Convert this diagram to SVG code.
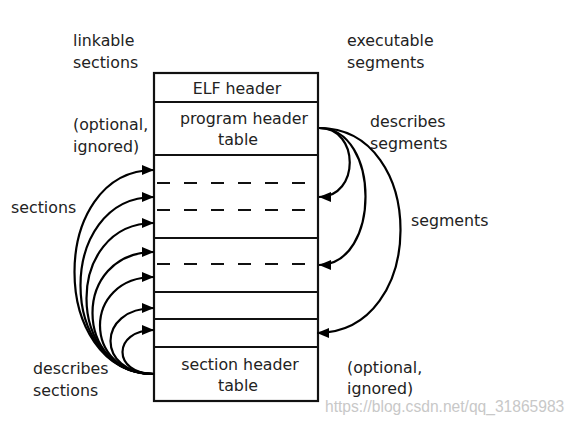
<svg xmlns="http://www.w3.org/2000/svg" width="577" height="422" viewBox="0 0 577 422">
<defs>
<style>
text{font-family:"DejaVu Sans",sans-serif;font-size:15.8px;fill:#222}
.c{text-anchor:middle}
.box{fill:#fff;stroke:#111;stroke-width:2.2}
.ln{stroke:#111;stroke-width:2.2}
.dash{stroke:#111;stroke-width:2.2;stroke-dasharray:13 14}
.arr{fill:none;stroke:#000;stroke-width:2.2;marker-end:url(#ah)}
.wm{font-family:"Liberation Sans",sans-serif;font-size:15.6px;fill:#c8c8c8}
</style>
<marker id="ah" viewBox="0 0 12 10" refX="12" refY="5" markerWidth="12" markerHeight="10" markerUnits="userSpaceOnUse" orient="auto">
<path d="M0,0 L12,5 L0,10 Z" fill="#000"/>
</marker>
</defs>
<rect width="577" height="422" fill="#fff"/>
<g id="elf-file">
<rect class="box" x="154" y="73" width="164" height="328"/>
<line class="ln" x1="154" y1="102" x2="318" y2="102"/>
<line class="ln" x1="154" y1="155" x2="318" y2="155"/>
<line class="dash" x1="157" y1="183" x2="310" y2="183"/>
<line class="dash" x1="157" y1="210" x2="310" y2="210"/>
<line class="ln" x1="154" y1="238" x2="318" y2="238"/>
<line class="dash" x1="157" y1="264" x2="310" y2="264"/>
<line class="ln" x1="154" y1="292" x2="318" y2="292"/>
<line class="ln" x1="154" y1="319" x2="318" y2="319"/>
<line class="ln" x1="154" y1="347" x2="318" y2="347"/>
</g>
<g id="elf-header"><text class="c" x="237" y="94">ELF header</text></g>
<g id="program-header-table"><text class="c" x="244" y="124">program header</text><text class="c" x="238" y="145">table</text></g>
<g id="section-header-table"><text class="c" x="240" y="370">section header</text><text class="c" x="238" y="391">table</text></g>
<g id="labels">
<text x="73" y="46">linkable</text><text x="73" y="68">sections</text>
<text x="347" y="46">executable</text><text x="347" y="68">segments</text>
<text x="73" y="130">(optional,</text><text x="73" y="152">ignored)</text>
<text x="370" y="127">describes</text><text x="370" y="149">segments</text>
<text x="11" y="213">sections</text>
<text x="411" y="226">segments</text>
<text x="33" y="374">describes</text><text x="33" y="396">sections</text>
<text x="347" y="373">(optional,</text><text x="347" y="394">ignored)</text>
</g>
<g id="connectors">
<path class="arr" d="M154,374 C48,374 48,170 154,170"/>
<path class="arr" d="M154,374 C56,374 56,197 154,197"/>
<path class="arr" d="M154,374 C64,374 64,223 154,223"/>
<path class="arr" d="M154,374 C72,374 72,252 154,252"/>
<path class="arr" d="M154,374 C82,374 82,277 154,277"/>
<path class="arr" d="M154,374 C96,374 96,308 154,308"/>
<path class="arr" d="M154,374 C112,374 112,330 154,330"/>
<path class="arr" d="M319,128 C360,128 360,197 319,197"/>
<path class="arr" d="M319,128 C381,128 381,265 319,265"/>
<path class="arr" d="M319,128 C428,128 428,333 317,333"/>
</g>
<text class="wm" x="325" y="412">https://blog.csdn.net/qq_31865983</text>
</svg>
